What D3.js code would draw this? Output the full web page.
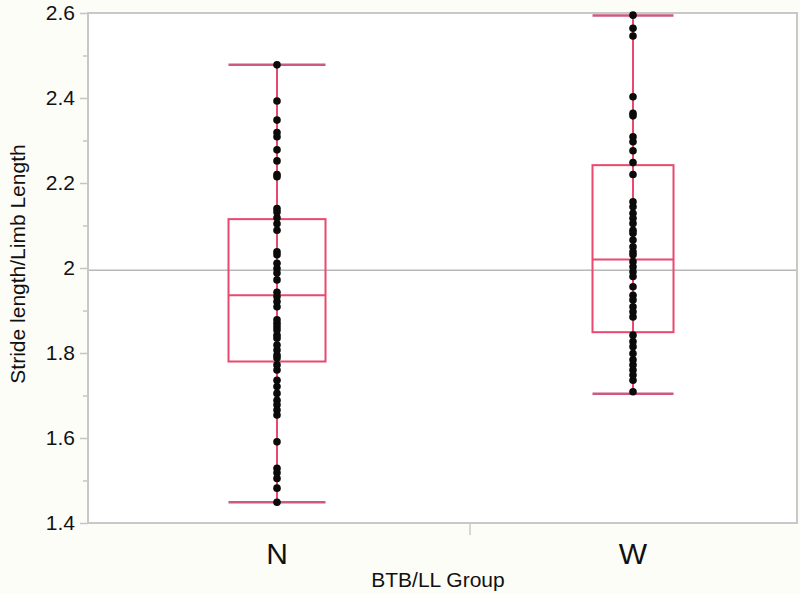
<!DOCTYPE html>
<html>
<head>
<meta charset="utf-8">
<script src="https://cdn.jsdelivr.net/npm/d3@7"></script>
<style>
  html, body { margin: 0; padding: 0; background: #fdfdf8; }
  svg { display: block; }
  text { font-family: "Liberation Sans", Arial, Helvetica, sans-serif; fill: #111; }
</style>
</head>
<body>
<svg id="chart" width="800" height="594"></svg>
<script>
// ---- data ----
const categories = ["N", "W"];
const pointsN = [2.478, 2.393, 2.348, 2.319, 2.309, 2.278, 2.252, 2.220, 2.215, 2.140, 2.132, 2.118, 2.104, 2.089,
  2.038, 2.031, 2.011, 1.999, 1.988, 1.972, 1.943, 1.933, 1.921, 1.909, 1.878, 1.870, 1.862, 1.854, 1.842, 1.835,
  1.819, 1.807, 1.795, 1.788, 1.772, 1.760, 1.736, 1.721, 1.705, 1.689, 1.678, 1.666, 1.654, 1.591, 1.529, 1.518,
  1.505, 1.482, 1.449];
const pointsW = [2.595, 2.564, 2.546, 2.403, 2.364, 2.358, 2.309, 2.297, 2.276, 2.248, 2.220, 2.156, 2.144, 2.129,
  2.117, 2.105, 2.089, 2.082, 2.066, 2.050, 2.038, 2.031, 2.015, 2.003, 1.991, 1.980, 1.956, 1.936, 1.925, 1.909,
  1.897, 1.885, 1.842, 1.827, 1.815, 1.799, 1.784, 1.772, 1.760, 1.748, 1.736, 1.709];
// box summaries: [lower whisker, Q1, median, Q3, upper whisker]
const boxN = [1.449, 1.780, 1.936, 2.115, 2.478];
const boxW = [1.704, 1.849, 2.020, 2.242, 2.594];
const referenceLine = 1.995;
const yTicks = [1.4, 1.6, 1.8, 2.0, 2.2, 2.4, 2.6];
const yMinorTicks = [1.5, 1.7, 1.9, 2.1, 2.3, 2.5];
const yLabels = ["1.4", "1.6", "1.8", "2", "2.2", "2.4", "2.6"];
const xTitle = "BTB/LL Group";
const yTitle = "Stride length/Limb Length";

// ---- layout ----
const plot = { left: 88, top: 13, right: 797, bottom: 523 };
const boxWidths = { N: 97, W: 81 };
const separatorX = 470;

const svg = d3.select("#chart");

const x = d3.scaleBand().domain(categories).range([99, 811]).padding(0);
const y = d3.scaleLinear().domain([1.4, 2.6]).range([plot.bottom, plot.top]);

// plot background
svg.append("rect")
  .attr("x", plot.left).attr("y", plot.top)
  .attr("width", plot.right - plot.left).attr("height", plot.bottom - plot.top)
  .attr("fill", "#ffffff");

// reference line
svg.append("line")
  .attr("x1", plot.left).attr("x2", plot.right)
  .attr("y1", y(referenceLine)).attr("y2", y(referenceLine))
  .attr("stroke", "#b8b8b8").attr("stroke-width", 1.5);

// y axis
const yAxis = d3.axisLeft(y).tickValues(yTicks)
  .tickFormat((d, i) => yLabels[i]).tickSize(8).tickPadding(5);
const gy = svg.append("g").attr("transform", `translate(${plot.left},0)`).call(yAxis);
gy.select(".domain").remove();
gy.selectAll(".tick line").attr("stroke", "#c4c4c4").attr("stroke-width", 1.5);
gy.selectAll(".tick text").style("font-size", "21px").attr("fill", "#111")
  .style("font-family", '"Liberation Sans", Arial, sans-serif');

const yMinor = d3.axisLeft(y).tickValues(yMinorTicks).tickFormat("").tickSize(5);
const gym = svg.append("g").attr("transform", `translate(${plot.left},0)`).call(yMinor);
gym.select(".domain").remove();
gym.selectAll(".tick line").attr("stroke", "#c4c4c4").attr("stroke-width", 1.5);

// frame
svg.append("rect")
  .attr("x", plot.left).attr("y", plot.top)
  .attr("width", plot.right - plot.left).attr("height", plot.bottom - plot.top)
  .attr("fill", "none").attr("stroke", "#c8c8c8").attr("stroke-width", 2);

// x separator tick
svg.append("line")
  .attr("x1", separatorX).attr("x2", separatorX)
  .attr("y1", plot.bottom).attr("y2", plot.bottom + 12)
  .attr("stroke", "#c8c8c8").attr("stroke-width", 1.5);

// x category labels
svg.selectAll(".xlab").data(categories).enter().append("text")
  .attr("class", "xlab")
  .attr("x", d => x(d) + x.bandwidth() / 2)
  .attr("y", 564)
  .attr("text-anchor", "middle")
  .style("font-size", "30px")
  .text(d => d);

// axis titles
svg.append("text")
  .attr("x", 438).attr("y", 587)
  .attr("text-anchor", "middle")
  .style("font-size", "21px")
  .text(xTitle);

svg.append("text")
  .attr("transform", `translate(25,${y(2.0) - 4}) rotate(-90)`)
  .attr("text-anchor", "middle")
  .style("font-size", "21px")
  .text(yTitle);

// boxes
const groups = [
  { cat: "N", box: boxN, pts: pointsN },
  { cat: "W", box: boxW, pts: pointsW }
];
const boxColor = "#e9496f";
const capColor = "#cc5a80";

groups.forEach(g => {
  const cx = x(g.cat) + x.bandwidth() / 2;
  const w = boxWidths[g.cat];
  const [lo, q1, med, q3, hi] = g.box;
  const gg = svg.append("g");
  // whisker line
  gg.append("line")
    .attr("x1", cx).attr("x2", cx).attr("y1", y(hi)).attr("y2", y(lo))
    .attr("stroke", boxColor).attr("stroke-width", 2);
  // caps
  [lo, hi].forEach(v => {
    gg.append("line")
      .attr("x1", cx - w / 2).attr("x2", cx + w / 2)
      .attr("y1", y(v)).attr("y2", y(v))
      .attr("stroke", capColor).attr("stroke-width", 2.5);
  });
  // box
  gg.append("rect")
    .attr("x", cx - w / 2).attr("y", y(q3))
    .attr("width", w).attr("height", y(q1) - y(q3))
    .attr("fill", "none").attr("stroke", boxColor).attr("stroke-width", 2);
  // median
  gg.append("line")
    .attr("x1", cx - w / 2).attr("x2", cx + w / 2)
    .attr("y1", y(med)).attr("y2", y(med))
    .attr("stroke", boxColor).attr("stroke-width", 2);
  // points
  gg.selectAll("circle").data(g.pts).enter().append("circle")
    .attr("cx", cx).attr("cy", d => y(d)).attr("r", 3.8)
    .attr("fill", "#0a0a0a");
});
</script>
</body>
</html>
